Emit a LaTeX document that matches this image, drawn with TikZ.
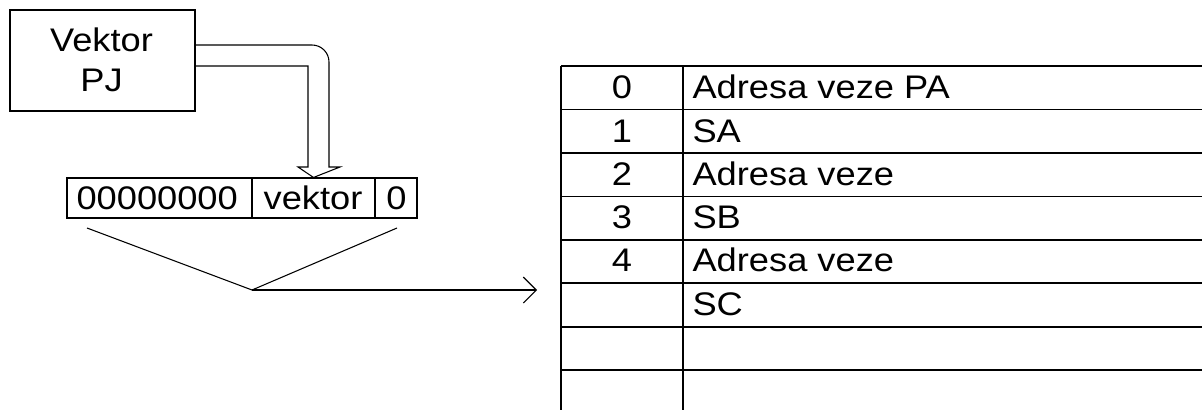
\documentclass[tikz,border=0pt]{standalone}
\usepackage{fontspec}
\usetikzlibrary{arrows.meta}
\newfontfamily\lblfont[FakeStretch=1.11]{Liberation Sans}
\begin{document}
\begin{tikzpicture}[x=0.75pt,y=-0.75pt,line width=0.8pt,
  lbl/.style={inner sep=0pt,anchor=base},
  lblw/.style={inner sep=0pt,anchor=base west},
  tab/.style={font=\lblfont\fontsize{24.5pt}{29pt}\selectfont},
  cell/.style={draw,inner sep=0pt,minimum height=30pt}]
\useasboundingbox (0,0) rectangle (1202,410);

% source box
\node[draw,inner sep=0pt,minimum width=138.75pt,minimum height=75.75pt] (vp) at (102.5,60.5) {};
\node[lbl,tab] (vpa) at (101.5,51.5) {Vektor};
\node[lbl,tab] (vpb) at (101.5,91) {PJ};

% register word
\node[cell,minimum width=138.75pt] (ra) at (159.5,198) {};
\node[cell,minimum width=92.25pt] (rb) at (313.5,198) {};
\node[cell,minimum width=31.5pt] (rc) at (396,198) {};
\node[lblw,tab] at (76,209.5) {00000000};
\node[lbl,tab] at (313,209.5) {vektor};
\node[lbl,tab] at (396.5,209.5) {0};

% hollow transfer arrow
\draw[line join=miter] (vp.east |- 0,45) -- (312,45) arc[start angle=-90,end angle=0,radius=17]
  -- (329,167) -- (340,167) -- (rb.north) -- (298,167) -- (308,167) -- (308,66) -- (vp.east |- 0,66);

% fan into the table
\coordinate (fan) at (252,290);
\coordinate (tip) at (537,290);
\draw (87,228) -- (fan) -- (397,228);
\draw[-{Straight Barb[length=9.75pt,width=19.5pt]}] (fan) -- (tip);

% table grid
\foreach \y in {66,109.5,153,196.5,240,283,327,370}
  \draw (561,\y) -- (1202,\y);
\draw (561,66) -- (561,410);
\draw (683,66) -- (683,410);

% table contents
\foreach \n/\b in {0/98.5,1/142,2/185,3/228,4/271.5}
  \node[lbl,tab] at (622,\b) {\n};
\node[lblw,tab] at (692,98.5) {Adresa veze PA};
\node[lblw,tab] at (692,142) {SA};
\node[lblw,tab] at (692,185) {Adresa veze};
\node[lblw,tab] at (692,228) {SB};
\node[lblw,tab] at (692,271.5) {Adresa veze};
\node[lblw,tab] at (692,315) {SC};
\end{tikzpicture}
\end{document}
